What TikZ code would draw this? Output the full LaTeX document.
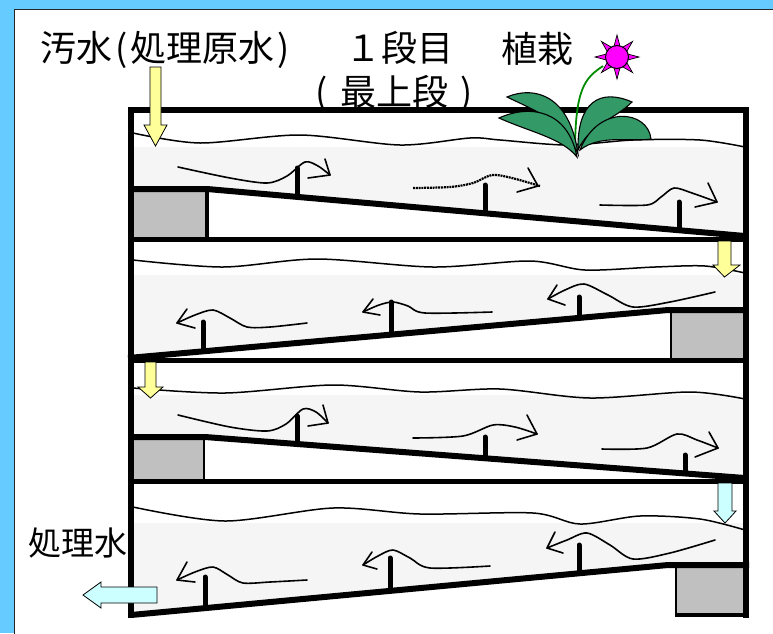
\documentclass[tikz,border=0pt]{standalone}
\usepackage{fontspec}
\setmainfont{Noto Sans CJK JP}
\usetikzlibrary{calc}
\definecolor{frameblue}{RGB}{102,204,255}
\definecolor{watergrey}{RGB}{245,245,245}
\definecolor{padgrey}{RGB}{192,192,192}
\definecolor{feedyellow}{RGB}{255,255,153}
\definecolor{outcyan}{RGB}{204,255,255}
\definecolor{leafgreen}{RGB}{51,153,102}
\definecolor{stemgreen}{RGB}{0,140,0}
\definecolor{petal}{RGB}{255,0,255}
\begin{document}
\begin{tikzpicture}[x=1pt,y=-1pt,
  wall/.style={line width=6pt},
  floorline/.style={line width=6pt, line join=miter},
  wave/.style={line width=1.5pt},
  flow/.style={line width=1.6pt, line cap=round, line join=round},
  dotflow/.style={line width=2.2pt, dash pattern=on 2pt off 0.8pt},
  baffle/.style={line width=5pt, line cap=round},
  water/.style={fill=watergrey},
  pad/.style={fill=padgrey},
  feedarrow/.style={fill=feedyellow, draw=black, line width=0.8pt, line join=miter},
  outarrow/.style={fill=outcyan, draw=black, line width=0.8pt, line join=miter},
  jptext/.style={font=\fontsize{36}{40}\selectfont, inner sep=0pt, anchor=base west},
  leaf/.style={fill=leafgreen, draw=black, line width=1.1pt},
  ray/.style={fill=petal, draw=black, line width=0.7pt, line join=miter}]

\useasboundingbox (0,0) rectangle (773,633);

% frame
\fill[frameblue] (0,0) rectangle (773,633);
\draw[fill=white, draw=black!85, line width=1.6pt] (14.5,9.5) rectangle (800,660);

% water bodies
\fill[water] (133,147) -- (743,147) -- (743,236) -- (207,189) -- (133,189) -- cycle;
\fill[water] (133,275) -- (743,275) -- (743,310) -- (668,310) -- (133,358) -- cycle;
\fill[water] (133,395) -- (743,395) -- (743,478) -- (205,437) -- (133,437) -- cycle;
\fill[water] (133,523) -- (743,523) -- (743,565) -- (668,565) -- (133,615) -- cycle;

% water surfaces
\draw[wave] plot[smooth] coordinates {(133,133) (200,143) (300,135) (400,145) (470,138) (500,140) (567,145) (633,140) (700,140) (745,147)};
\draw[wave] plot[smooth] coordinates {(133,260) (223,267) (317,259) (433,267) (530,261) (585,270) (655,267) (705,266) (745,273)};
\draw[wave] plot[smooth] coordinates {(133,388) (225,393) (333,385) (420,392) (500,389) (590,398) (690,392) (745,399)};
\draw[wave] plot[smooth] coordinates {(133,507) (225,521) (333,508) (420,514) (533,513) (580,524) (640,516) (700,519) (745,530)};

% grey pads
\fill[pad] (133,190) rectangle (206,238);
\fill[pad] (671,312) rectangle (745,359);
\fill[pad] (133,439) rectangle (204,480);
\fill[pad] (676,567) rectangle (745,614);

% baffles
\draw[baffle] (297,168) -- (297,196);
\draw[baffle] (485,185) -- (485,213);
\draw[baffle] (679,202) -- (679,230);
\draw[baffle] (203,322) -- (203,351);
\draw[baffle] (391,302) -- (391,334);
\draw[baffle] (579,297) -- (579,317);
\draw[baffle] (297,416) -- (297,443);
\draw[baffle] (485,437) -- (485,457);
\draw[baffle] (685,455) -- (685,473);
\draw[baffle] (205,577) -- (205,607);
\draw[baffle] (390,558) -- (390,590);
\draw[baffle] (579,545) -- (579,572);

% flow lines, stage 1 (to the right)
\draw[flow] plot[smooth] coordinates {(178,167) (230,178) (267,183) (287,176) (305,162) (318,166) (330,175)};
\draw[flow] (325,159) -- (330,175) -- (308,178);
\draw[dotflow] plot[smooth] coordinates {(413,188) (450,187) (473,183) (492,175) (512,178) (540,186)};
\draw[flow] (528,168) -- (538,186) -- (517,192);
\draw[flow] plot[smooth] coordinates {(600,205) (647,205) (661,197) (674,188) (692,193) (717,202)};
\draw[flow] (708,183) -- (717,202) -- (695,207);

% stage 2 (to the left)
\draw[flow] plot[smooth] coordinates {(307,323) (270,327) (247,327) (230,318) (213,310) (195,315) (177,323)};
\draw[flow] (187,309) -- (177,323) -- (195,328);
\draw[flow] plot[smooth] coordinates {(492,312) (425,313) (408,306) (393,302) (379,305) (363,312)};
\draw[flow] (373,299) -- (363,312) -- (380,315);
\draw[flow] plot[smooth] coordinates {(715,292) (670,302) (633,307) (608,295) (584,284) (565,290) (548,299)};
\draw[flow] (557,285) -- (548,299) -- (565,305);

% stage 3 (to the right)
\draw[flow] plot[smooth] coordinates {(178,415) (230,427) (267,431) (286,424) (303,409) (316,412) (328,423)};
\draw[flow] (323,405) -- (328,423) -- (308,426);
\draw[flow] plot[smooth] coordinates {(413,438) (463,436) (493,425) (515,427) (537,434)};
\draw[flow] (527,415) -- (537,434) -- (517,440);
\draw[flow] plot[smooth] coordinates {(602,449) (647,448) (677,434) (697,440) (718,448)};
\draw[flow] (709,432) -- (718,448) -- (695,457);

% stage 4 (to the left)
\draw[flow] plot[smooth] coordinates {(307,580) (270,582) (243,583) (228,575) (213,567) (195,572) (177,580)};
\draw[flow] (187,562) -- (177,580) -- (195,582);
\draw[flow] plot[smooth] coordinates {(490,566) (430,568) (410,558) (393,550) (378,556) (363,565)};
\draw[flow] (372,552) -- (363,565) -- (377,569);
\draw[flow] plot[smooth] coordinates {(715,540) (670,553) (633,559) (610,545) (587,533) (567,540) (547,548)};
\draw[flow] (555,532) -- (547,548) -- (563,553);

% tiers: top plates and sloped floors
\draw[wall] (128,110) -- (749,110);
\draw[wall, line width=5pt] (128,239) -- (745,239);
\draw[wall, line width=5pt] (128,360) -- (745,360);
\draw[wall, line width=5pt] (128,481) -- (745,481);
\draw[floorline] (128,189) -- (207,189) -- (745,236);
\draw[floorline] (128,358) -- (668,310) -- (745,310);
\draw[floorline] (128,437) -- (205,437) -- (745,478);
\draw[floorline] (131,615) -- (668,565) -- (749,565);
% pad edges
\draw[line width=4pt] (207,189) -- (207,239);
\draw[line width=2pt] (671,310) -- (671,360);
\draw[line width=1.5pt] (204,437) -- (204,481);
\draw[line width=1.5pt] (676,565) -- (676,616);
\draw[line width=4.5pt] (675,615) -- (749,615);
% side walls
\draw[wall] (131,107) -- (131,618);
\draw[wall] (746,107) -- (746,618);

% feed and discharge arrows
\draw[feedarrow] (150,67) -- (161,67) -- (161,125) -- (167,125) -- (155.5,146) -- (144,125) -- (150,125) -- cycle;
\draw[feedarrow] (718,241) -- (731,241) -- (731,265) -- (740,265) -- (724.5,277) -- (713,265) -- (718,265) -- cycle;
\draw[feedarrow] (145,362) -- (156,362) -- (156,387) -- (163,387) -- (150.5,398) -- (138,387) -- (145,387) -- cycle;
\draw[outarrow] (718,483) -- (732,483) -- (732,511) -- (736,511) -- (725,523) -- (714,511) -- (718,511) -- cycle;
\draw[outarrow] (157,587) -- (157,603) -- (101,603) -- (101,608) -- (83,595) -- (101,582) -- (101,587) -- cycle;

% planting
\draw[stemgreen, line width=1.8pt] (603,66) .. controls (585,78) and (575,88) .. (575,153);
\draw[leaf] (507,97) .. controls (535,85) and (570,96) .. (578,154) .. controls (562,120) and (538,112) .. cycle;
\draw[leaf] (499,118) .. controls (530,104) and (568,110) .. (577,157) .. controls (562,138) and (530,132) .. cycle;
\draw[leaf] (632,102) .. controls (600,88) and (577,102) .. (578,150) .. controls (590,124) and (614,120) .. cycle;
\draw[leaf] (651,139) .. controls (648,110) and (598,104) .. (580,150) .. controls (600,134) and (632,142) .. cycle;
\coordinate (fc) at (617,57);
\foreach \a in {0,45,...,315}
  \draw[ray] ($(fc)+(\a-16:11)$) -- ($(fc)+(\a:22)$) -- ($(fc)+(\a+16:11)$) -- cycle;
\draw[fill=petal, draw=black, line width=1pt] (fc) circle[radius=11.5];

% labels
\node[jptext] (raw) at (40,61) {汚水\hbox to 18pt{\hss(\hss}処理原水\hbox to 18pt{\hss)\hss}};
\node[jptext] (stage) at (345,61) {１段目};
\node[jptext] (top) at (303,105) {\hbox to 37pt{\hss(\hss}最上段\hbox to 37pt{\hss)\hss}};
\node[jptext] (plant) at (501,62) {植栽};
\node[jptext, font=\fontsize{33}{38}\selectfont] (treated) at (28,555) {処理水};
\end{tikzpicture}
\end{document}
